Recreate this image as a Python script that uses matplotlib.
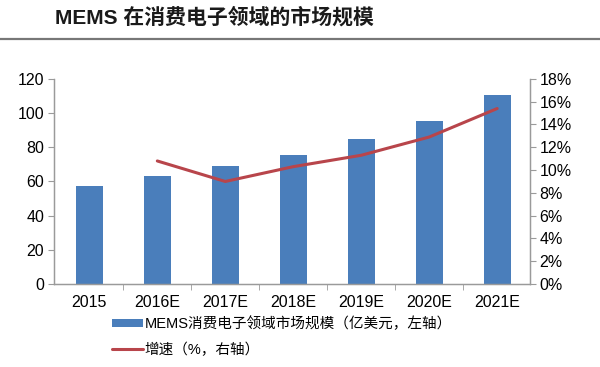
import matplotlib
matplotlib.use("Agg")
import matplotlib.pyplot as plt
import numpy as np
from matplotlib.lines import Line2D
from matplotlib.ticker import FixedLocator, PercentFormatter

plt.rcParams["font.family"] = ["Liberation Sans", "Noto Sans CJK SC", "DejaVu Sans"]

CATEGORIES = ["2015", "2016E", "2017E", "2018E", "2019E", "2020E", "2021E"]
MARKET_SIZE = [57.4, 63.2, 69.0, 75.7, 85.0, 95.6, 110.8]
GROWTH_CATEGORIES = ["2016E", "2017E", "2018E", "2019E", "2020E", "2021E"]
GROWTH_PCT = [10.8, 9.0, 10.3, 11.3, 12.9, 15.4]

TITLE = "MEMS 在消费电子领域的市场规模"
BAR_LABEL = "MEMS消费电子领域市场规模（亿美元，左轴）"
LINE_LABEL = "增速（%，右轴）"

BAR_COLOR = "#4a7ebb"
LINE_COLOR = "#b8454b"
AXIS_COLOR = "#9a9a9a"

fig = plt.figure(figsize=(6.0, 3.67), dpi=100)
ax = fig.add_axes([0.09, 0.226, 0.793, 0.559])
ax2 = ax.twinx()

x = np.arange(len(CATEGORIES))
bars = ax.bar(x, MARKET_SIZE, width=0.4, color=BAR_COLOR, label=BAR_LABEL, zorder=2)

gx = [CATEGORIES.index(c) for c in GROWTH_CATEGORIES]
(line,) = ax2.plot(gx, GROWTH_PCT, color=LINE_COLOR, lw=2.2, label=LINE_LABEL,
                   solid_capstyle="round")

ax.set_xlim(-0.52, 6.48)
ax.set_ylim(0, 120)
ax.set_yticks(range(0, 121, 20))
ax2.set_ylim(0, 18)
ax2.set_yticks(range(0, 19, 2))
ax2.yaxis.set_major_formatter(PercentFormatter(decimals=0))

ax.set_xticks(x)
ax.set_xticklabels(CATEGORIES)
ax.xaxis.set_minor_locator(FixedLocator(np.arange(0.5, 6.6, 1.0)))
ax.tick_params(axis="x", which="major", length=0, pad=8, labelsize=11.5)
ax.tick_params(axis="x", which="minor", length=4, color=AXIS_COLOR, direction="out")
ax.tick_params(axis="y", length=4, color=AXIS_COLOR, labelsize=11.5, pad=3)
ax2.tick_params(axis="y", length=4, color=AXIS_COLOR, labelsize=11.5, pad=3)

for a in (ax, ax2):
    a.spines["top"].set_visible(False)
    for s in ("left", "right", "bottom"):
        a.spines[s].set_color(AXIS_COLOR)
        a.spines[s].set_linewidth(0.9)

# title and rule under it
fig.text(0.092, 0.952, TITLE, fontsize=15, fontweight="bold", color="#1a1a1a",
         va="center", ha="left")
fig.add_artist(Line2D([0, 1], [0.893, 0.893], color="#777777", lw=1.6,
                      transform=fig.transFigure))

fig.legend(handles=[bars, line], labels=[BAR_LABEL, LINE_LABEL],
           loc="upper left", bbox_to_anchor=(0.187, 0.137), frameon=False,
           fontsize=10.5, handlelength=2.1, handleheight=0.5, handletextpad=0.1,
           labelspacing=0.75, borderpad=0, borderaxespad=0)

fig.savefig("out.png", dpi=100)
